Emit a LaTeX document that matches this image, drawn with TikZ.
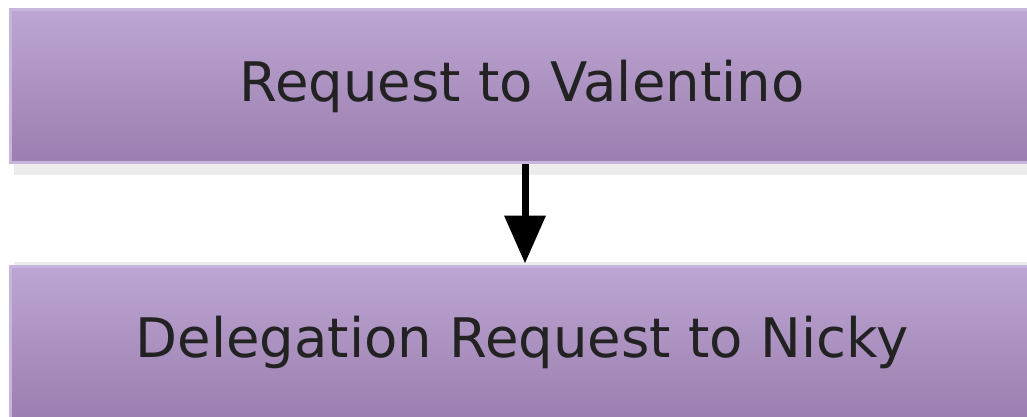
\documentclass[tikz,border=0pt]{standalone}
\usepackage{fontspec}
\setmainfont{DejaVu Sans}
\usetikzlibrary{arrows.meta}
\definecolor{boxtop}{HTML}{BDA6D3}
\definecolor{boxbot}{HTML}{9B7EAF}
\definecolor{boxedge}{HTML}{C8B5DC}
\definecolor{shadowc}{HTML}{ECECEC}
\definecolor{txt}{HTML}{222222}
\tikzset{
  stepbox/.style={rectangle, draw=boxedge, line width=3pt, top color=boxtop, bottom color=boxbot,
    minimum width=1024pt, minimum height=152pt, inner sep=0pt, text=txt,
    font=\fontsize{54.5}{66}\selectfont},
  shadowbox/.style={fill=shadowc, draw=none},
  flowarrow/.style={line width=7pt, draw=black, -{Triangle[width=40pt,length=48pt]}, shorten >=1pt}
}
\begin{document}
\begin{tikzpicture}[x=1pt,y=-1pt]
\useasboundingbox (0,0) rectangle (1027,417);
\clip (0,0) rectangle (1027,417);
\fill[white] (0,0) rectangle (1027,417);
% shadows
\fill[shadowbox] (14,164) rectangle (1040,175);
\fill[shadowbox] (14,262) rectangle (1040,266);
\node[stepbox] (a) at (522,86) {Request to Valentino};
\node[stepbox] (b) at (522,342) {Delegation Request to Nicky};
\draw[flowarrow] (a.south -| 525,0) -- (b.north -| 525,0);
\end{tikzpicture}
\end{document}
